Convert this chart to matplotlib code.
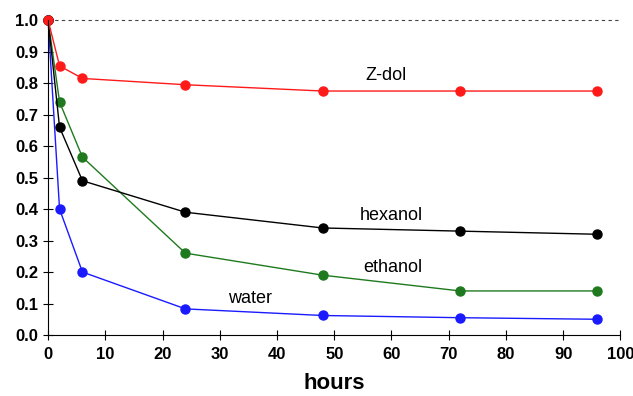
import matplotlib.pyplot as plt

hours = [0, 2, 6, 24, 48, 72, 96]
zdol = [1.0, 0.855, 0.815, 0.795, 0.775, 0.775, 0.775]
hexanol = [1.0, 0.66, 0.49, 0.39, 0.34, 0.33, 0.32]
ethanol = [1.0, 0.74, 0.565, 0.26, 0.19, 0.14, 0.14]
water = [1.0, 0.40, 0.20, 0.083, 0.062, 0.055, 0.05]

plt.rcParams['font.family'] = ['Liberation Sans', 'DejaVu Sans']

fig = plt.figure(figsize=(6.33, 3.96), dpi=100)
ax = fig.add_axes([0.076, 0.154, 0.904, 0.795])

ax.axhline(1.0, color='#444444', lw=0.8, ls=(0, (3, 3)))
ax.plot(hours, water, '-o', color='#1a1aff', lw=1, ms=6.5)
ax.plot(hours, ethanol, '-o', color='#1f7a1f', lw=1, ms=6.5)
ax.plot(hours, hexanol, '-o', color='black', lw=1, ms=6.5)
ax.plot(hours, zdol, '-o', color='#ff1a1a', lw=1, ms=6.5)

ax.text(55.5, 0.825, 'Z-dol', fontsize=13, va='center')
ax.text(54.5, 0.38, 'hexanol', fontsize=13, va='center')
ax.text(55, 0.213, 'ethanol', fontsize=13, va='center')
ax.text(31.5, 0.117, 'water', fontsize=13, va='center')

ax.set_xlim(0, 100)
ax.set_ylim(0, 1.0)
ax.set_xticks(range(0, 101, 10))
ax.set_yticks([i / 10 for i in range(11)])
ax.set_yticklabels([f'{i / 10:.1f}' for i in range(11)])
for s in ['top', 'right']:
    ax.spines[s].set_visible(False)
ax.tick_params(direction='inout', length=7, labelsize=12)
ax.tick_params(axis='x', pad=5)
for lab in ax.get_xticklabels() + ax.get_yticklabels():
    lab.set_fontweight('bold')
ax.set_xlabel('hours', fontsize=16, fontweight='bold', labelpad=8)
for p in ax.lines:
    p.set_clip_on(False)

fig.savefig('out.png')
